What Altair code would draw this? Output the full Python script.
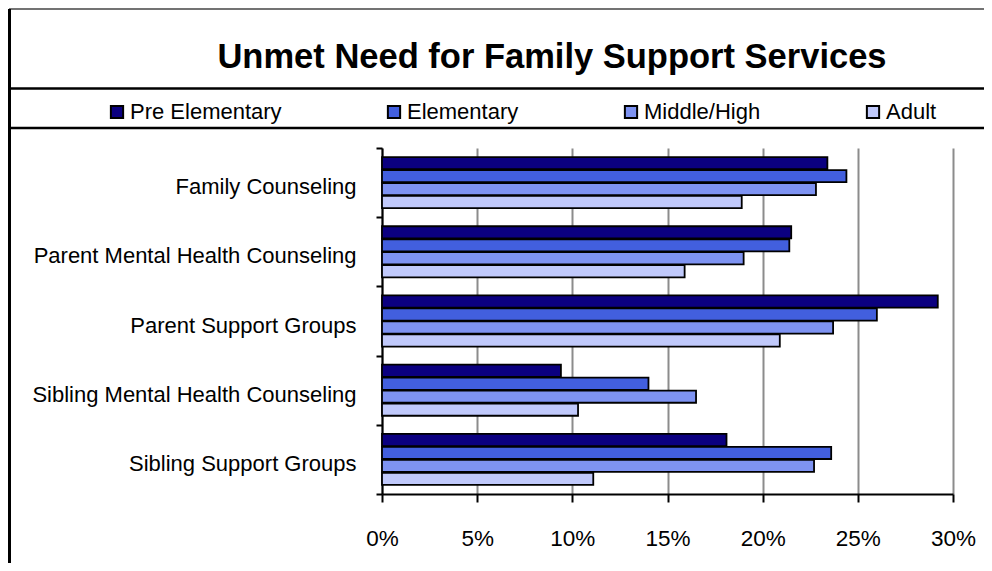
import altair as alt
import pandas as pd

categories = ["Family Counseling", "Parent Mental Health Counseling", "Parent Support Groups",
              "Sibling Mental Health Counseling", "Sibling Support Groups"]
groups = ["Pre Elementary", "Elementary", "Middle/High", "Adult"]
pre_elementary = [23.4, 21.5, 29.2, 9.4, 18.1]
elementary = [24.4, 21.4, 26.0, 14.0, 23.6]
middle_high = [22.8, 19.0, 23.7, 16.5, 22.7]
adult = [18.9, 15.9, 20.9, 10.3, 11.1]
colors = ["#0B0080", "#425FDE", "#7E93F2", "#C0C9FB"]
x_ticks = [0, 5, 10, 15, 20, 25, 30]
title_text = "Unmet Need for Family Support Services"

FONT = "Liberation Sans, Arial, sans-serif"

rows = []
for g, vals in zip(groups, [pre_elementary, elementary, middle_high, adult]):
    for c, v in zip(categories, vals):
        rows.append({"category": c, "group": g, "value": v / 100})
df = pd.DataFrame(rows)

W, H = 571, 346
PL, PT, PR, PB = 374, 140, 31, 69

bars = alt.Chart(df).mark_bar(stroke="black", strokeWidth=1.8).encode(
    x=alt.X("value:Q", scale=alt.Scale(domain=[0, 0.30], nice=False),
            axis=alt.Axis(format="%", values=[t / 100 for t in x_ticks], title=None,
                          grid=True, gridColor="#8c8c8c", gridWidth=2,
                          domainColor="black", domainWidth=2,
                          tickColor="black", tickWidth=2, tickSize=8,
                          labelFont=FONT, labelFontSize=22.5, labelColor="black",
                          labelFlush=False, labelPadding=25)),
    y=alt.Y("category:N", sort=categories,
            scale=alt.Scale(paddingInner=0, paddingOuter=0),
            axis=alt.Axis(title=None, tickBand="extent", grid=False,
                          domainColor="black", domainWidth=2,
                          tickColor="black", tickWidth=2, tickSize=6,
                          labelFont=FONT, labelFontSize=22, labelColor="black",
                          labelPadding=20, labelLimit=400, labelOffset=4)),
    yOffset=alt.YOffset("group:N", sort=groups,
                        scale=alt.Scale(paddingInner=0.06, paddingOuter=0.7)),
    color=alt.Color("group:N", sort=groups,
                    scale=alt.Scale(domain=groups, range=colors),
                    legend=alt.Legend(title=None, orient="none", legendX=-276, legendY=-47,
                                      direction="horizontal", columns=4, columnPadding=101,
                                      gridAlign="each", symbolType="square", symbolSize=150,
                                      symbolStrokeColor="black", symbolStrokeWidth=2,
                                      symbolOpacity=1,
                                      labelFont=FONT, labelFontSize=22, labelColor="black",
                                      labelOffset=2)),
)

blank = alt.Data(values=[{"t": title_text}])
title = alt.Chart(blank).mark_text(font=FONT, fontSize=34.5, fontWeight="bold", color="black",
                                   align="center", baseline="alphabetic").encode(
    x=alt.value(170), y=alt.value(-80), text="t:N")
line1 = alt.Chart(blank).mark_rule(color="black", strokeWidth=2.5).encode(
    x=alt.value(-373), x2=alt.value(W + PR), y=alt.value(-59.5))
line2 = alt.Chart(blank).mark_rule(color="black", strokeWidth=2.5).encode(
    x=alt.value(-373), x2=alt.value(W + PR), y=alt.value(-20))
top = alt.Chart(blank).mark_rule(color="#444", strokeWidth=1.5).encode(
    x=alt.value(-373), x2=alt.value(W + PR), y=alt.value(-139))
left = alt.Chart(blank).mark_rule(color="black", strokeWidth=3).encode(
    x=alt.value(-372.5), y=alt.value(-139), y2=alt.value(H + PB))

chart = alt.layer(bars, title, line1, line2, top, left).properties(
    width=W, height=H,
    autosize=alt.AutoSizeParams(type="none"),
    padding={"left": PL, "top": PT, "right": PR, "bottom": PB},
).configure_view(stroke=None)

chart.save("out.html", embed_options={"renderer": "svg", "actions": False})
